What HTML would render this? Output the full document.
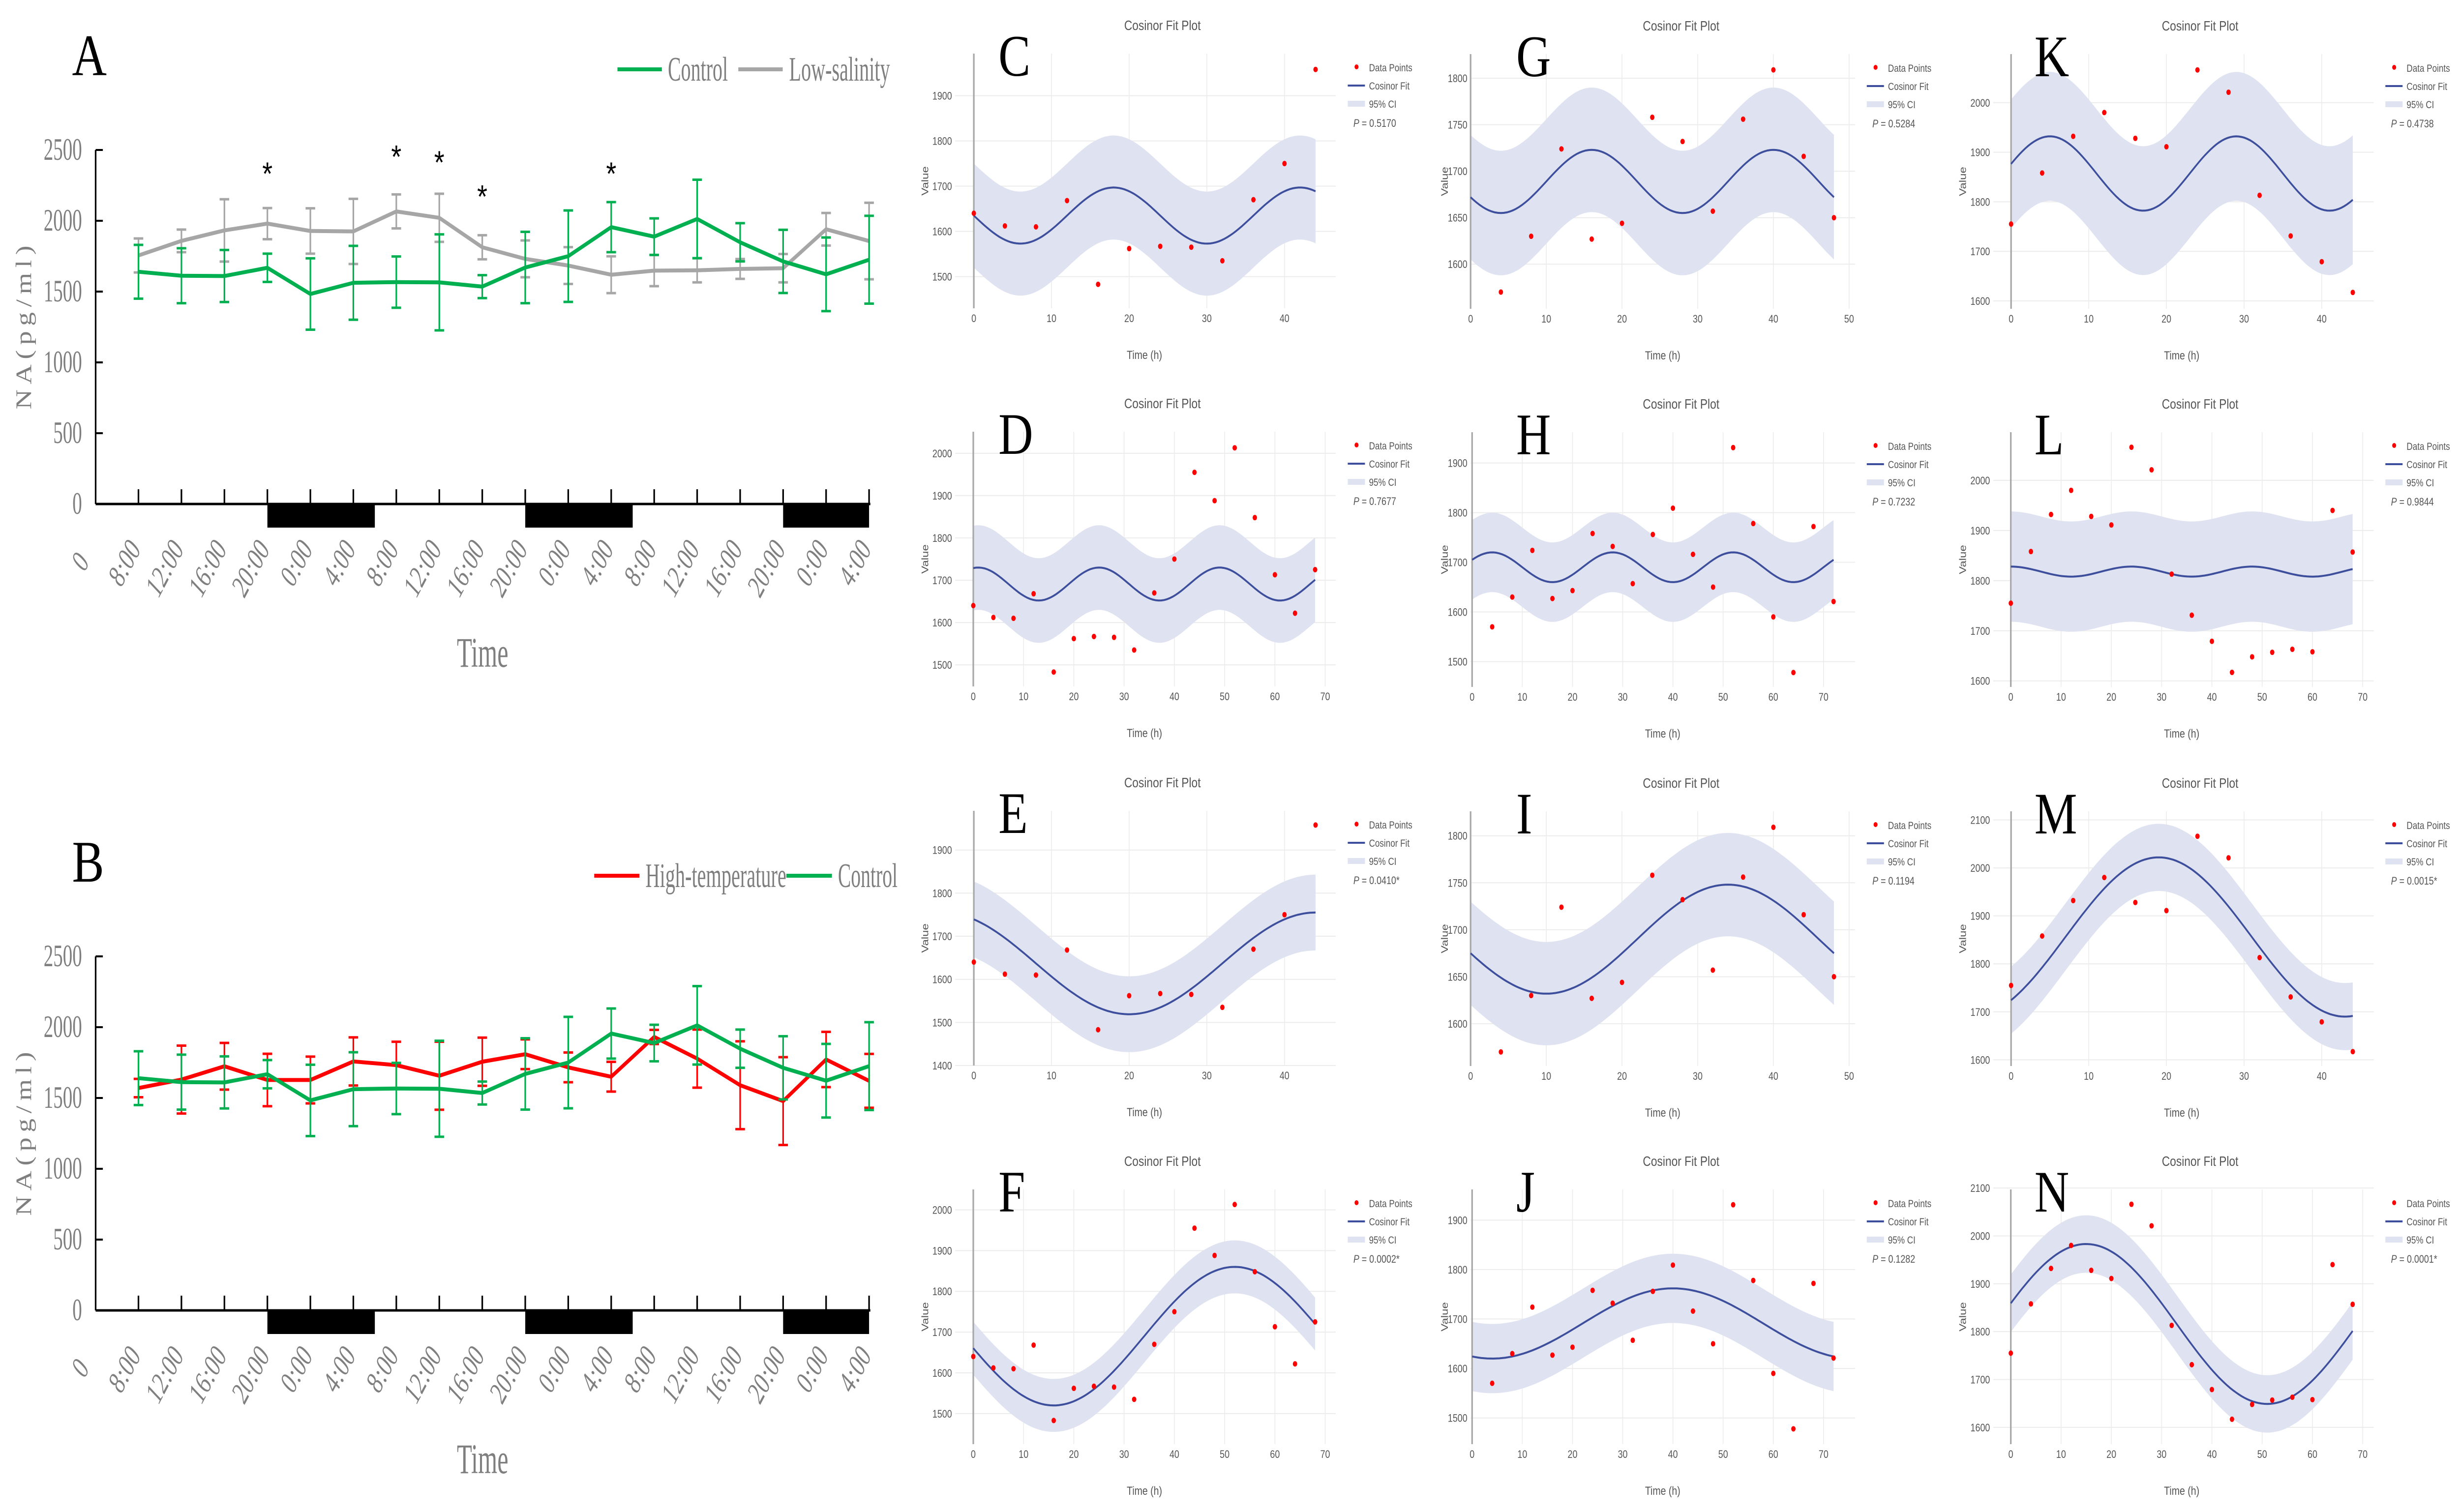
<!DOCTYPE html>
<html><head><meta charset="utf-8"><title>NA rhythm figure</title>
<style>html,body{margin:0;padding:0;background:#fff;overflow:hidden;width:100vw;height:100vh}svg{display:block;width:100vw;height:100vh}</style></head>
<body>
<svg id="fig" xmlns="http://www.w3.org/2000/svg" viewBox="0 0 6145 3075" preserveAspectRatio="none">
<rect width="6145" height="3075" fill="#fff"/>
</svg>
<script>
// ---------- data for line panels A/B ----------
const timeLabels = ["8:00","12:00","16:00","20:00","0:00","4:00","8:00","12:00","16:00","20:00","0:00","4:00","8:00","12:00","16:00","20:00","0:00","4:00"];
const controlVals = [1640,1612,1610,1668,1483,1562,1567,1565,1535,1670,1750,1955,1888,2013,1848,1713,1622,1725];
const controlErr = [190,194,184,100,252,261,181,339,81,252,323,177,129,277,135,223,260,310];
const lowSalVals = [1755,1858,1932,1980,1928,1925,2066,2021,1813,1731,1684,1619,1648,1650,1660,1665,1940,1857];
const lowSalErr = [120,80,220,110,160,230,120,170,85,130,130,130,110,85,70,100,115,270];
const highTempVals = [1570,1630,1724,1627,1627,1758,1732,1657,1756,1809,1716,1650,1931,1778,1590,1478,1772,1621];
const highTempErr = [65,240,165,185,165,170,165,240,170,105,105,105,50,205,310,310,195,190];
const starIdx = [3,6,7,8,11];
const starVals = [2350,2470,2430,2190,2350];
const yTicksAB = [0,500,1000,1500,2000,2500];
const nightBars = [[3,5.5],[9,11.5],[15,17]];

// ---------- data for cosinor panels ----------
const tC = [0,4,8,12,16,20,24,28,32,36,40,44];
const vC = [1640,1612,1610,1668,1483,1562,1567,1565,1535,1670,1750,1958];
const tD = [0,4,8,12,16,20,24,28,32,36,40,44,48,52,56,60,64,68];
const vD = [1640,1612,1610,1668,1483,1562,1567,1565,1535,1670,1750,1955,1888,2013,1848,1713,1622,1725];
const tG = [4,8,12,16,20,24,28,32,36,40,44,48];
const vG = [1570,1630,1724,1627,1644,1758,1732,1657,1756,1809,1716,1650];
const tH = [4,8,12,16,20,24,28,32,36,40,44,48,52,56,60,64,68,72];
const vH = [1570,1630,1724,1627,1643,1758,1732,1657,1756,1809,1716,1650,1931,1778,1590,1478,1772,1621];
const tK = [0,4,8,12,16,20,24,28,32,36,40,44];
const vK = [1755,1858,1932,1980,1928,1911,2066,2021,1813,1731,1679,1617];
const tL = [0,4,8,12,16,20,24,28,32,36,40,44,48,52,56,60,64,68];
const vL = [1755,1858,1932,1980,1928,1911,2066,2021,1813,1731,1679,1617,1648,1657,1663,1658,1940,1857];
// fit params: [mesor, amplitude, period(h), acrophase(h)]
const fitC = [1635,62,24,18], fitD = [1691,39,24,1], fitE = [1637,118,48,44], fitF = [1690,170,72,52];
const fitG = [1689,34,24,16], fitH = [1690,30,24,4], fitI = [1690,58,48,34], fitJ = [1691,71,72,40];
const fitK = [1857,75,24,5], fitL = [1818,10,24,0], fitM = [1856,166,48,19], fitN = [1816,167,72,15];
const ciC=115, ciD=100, ciE=88, ciF=65, ciG=67, ciH=80, ciI=55, ciJ=70, ciK=130, ciL=110, ciM=70, ciN=60;
const pValues = ["0.5170","0.7677","0.0410*","0.0002*","0.5284","0.7232","0.1194","0.1282","0.4738","0.9844","0.0015*","0.0001*"];

const NS="http://www.w3.org/2000/svg";
const svg=document.getElementById('fig');
function el(tag,attrs,parent,txt){const e=document.createElementNS(NS,tag);for(const k in attrs)e.setAttribute(k,attrs[k]);if(txt!==undefined)e.textContent=txt;(parent||svg).appendChild(e);return e;}

// ---------- line panels ----------
function linePanel(letter,oy,series,legend,stars){
  const g=el('g',{});
  
  
  const x0=239, xR=2175, yBase=1025+oy, yTop=305+oy;
  const ys=v=>yBase-v*(yBase-yTop)/2500;
  const xs=i=>346+i*107.4;
  const serif='"Liberation Serif", serif';
  let t=el('text',{x:180,y:153+oy,'font-family':serif,'font-size':120,fill:'#000'},g,letter);
  
  
  nightBars.forEach((b,k)=>{
    const r=el('rect',{x:xs(b[0]),y:yBase,width:Math.min(xs(b[1]),xR)-xs(b[0]),height:48,fill:'#000'},g);
    
    
  });
  const ax=el('line',{x1:x0,y1:yTop,x2:x0,y2:yBase,stroke:'#000','stroke-width':4},g);
  
  
  const bx=el('line',{x1:x0,y1:yBase,x2:xR,y2:yBase,stroke:'#000','stroke-width':5},g);
  
  
  yTicksAB.forEach(v=>{
    el('line',{x1:x0,y1:ys(v),x2:x0+18,y2:ys(v),stroke:'#000','stroke-width':4},g);
    const tl=el('text',{x:0,y:0,transform:`translate(205,${ys(v)+20}) scale(0.75,1)`,'text-anchor':'end','font-family':serif,'font-size':64,fill:'#7f7f7f'},g,String(v));
    
    
  });
  timeLabels.forEach((lab,i)=>{
    el('line',{x1:xs(i),y1:yBase-30,x2:xs(i),y2:yBase,stroke:'#000','stroke-width':4},g);
    const tl=el('text',{x:0,y:0,transform:`translate(${xs(i)+8},${yBase+92}) rotate(-57) scale(0.8,1)`,'text-anchor':'end','font-family':serif,'font-style':'italic','font-size':64,fill:'#7f7f7f'},g,lab);
    
    
  });
  const z=el('text',{x:0,y:0,transform:`translate(225,${yBase+118}) rotate(-57) scale(0.8,1)`,'text-anchor':'end','font-family':serif,'font-style':'italic','font-size':64,fill:'#7f7f7f'},g,'0');
  
  
  const yt=el('text',{x:0,y:0,transform:`translate(78,${666+oy}) rotate(-90)`,'text-anchor':'middle','font-family':serif,'font-size':56,fill:'#7f7f7f',textLength:333,lengthAdjust:'spacing'},g,'NA(pg/ml)');
  
  
  const xt=el('text',{x:0,y:0,transform:`translate(1206,${1356+oy}) scale(0.72,1)`,'text-anchor':'middle','font-family':serif,'font-size':86,fill:'#7f7f7f'},g,'Time');
  
  
  series.forEach(s=>{
    const sg=el('g',{},g);
    
    
    s.vals.forEach((v,i)=>{
      const e=s.err[i], x=xs(i);
      el('line',{x1:x,y1:ys(v-e),x2:x,y2:ys(v+e),stroke:s.color,'stroke-width':4},sg);
      el('line',{x1:x-12,y1:ys(v-e),x2:x+12,y2:ys(v-e),stroke:s.color,'stroke-width':5},sg);
      el('line',{x1:x-12,y1:ys(v+e),x2:x+12,y2:ys(v+e),stroke:s.color,'stroke-width':5},sg);
    });
    const pts=s.vals.map((v,i)=>xs(i)+','+ys(v)).join(' ');
    const pl=el('polyline',{points:pts,fill:'none',stroke:s.color,'stroke-width':8,'stroke-linejoin':'round'},sg);
    
    
  });
  if(stars){
    stars.idx.forEach((i,k)=>{
      const st=el('text',{x:xs(i),y:ys(stars.vals[k])+28,'text-anchor':'middle','font-family':'"Liberation Sans", sans-serif','font-size':66,fill:'#000'},g,'*');
      
      
    });
  }
  legend.forEach(L=>{
    const lg=el('g',{},g);
    
    
    el('line',{x1:L.x1,y1:141+oy,x2:L.x2,y2:141+oy,stroke:L.color,'stroke-width':8},lg);
    el('text',{x:L.tx,y:164+oy,'font-family':serif,'font-size':70,fill:'#7f7f7f',textLength:L.tw,lengthAdjust:'spacingAndGlyphs'},lg,L.text);
  });
}
linePanel('A',0,[
  {name:'low-salinity',color:'#a6a6a6',vals:lowSalVals,err:lowSalErr},
  {name:'control',color:'#00b050',vals:controlVals,err:controlErr}],
  [{x1:1543,x2:1654,color:'#00b050',tx:1669,tw:150,text:'Control'},
   {x1:1845,x2:1956,color:'#a6a6a6',tx:1972,tw:252,text:'Low-salinity'}],
  {idx:starIdx,vals:starVals});
linePanel('B',1640,[
  {name:'high-temperature',color:'#ff0000',vals:highTempVals,err:highTempErr},
  {name:'control',color:'#00b050',vals:controlVals,err:controlErr}],
  [{x1:1485,x2:1598,color:'#ff0000',tx:1613,tw:352,text:'High-temperature'},
   {x1:1965,x2:2079,color:'#00b050',tx:2094,tw:149,text:'Control'}],null);

// ---------- cosinor panels ----------
const cols=[
 {left:2387,right:3338,lab:2495,tc:2905,xc:2860,vx:2312,leg:3368},
 {left:3675,right:4636,lab:3789,tc:4201,xc:4155,vx:3610,leg:4665},
 {left:4981,right:5932,lab:5084,tc:5498,xc:5452,vx:4905,leg:5961}];
const panels=[
 {L:'C',c:0,T:50,y:[1430,1993],yt:[1500,1600,1700,1800,1900],x:[-2.4,46.6],xt:[0,10,20,30,40],t:tC,v:vC,fit:fitC,ci:ciC,t0:0,t1:44},
 {L:'D',c:0,T:819,y:[1449,2051],yt:[1500,1600,1700,1800,1900,2000],x:[-3.6,72.1],xt:[0,10,20,30,40,50,60,70],t:tD,v:vD,fit:fitD,ci:ciD,t0:0,t1:68},
 {L:'E',c:0,T:1590,y:[1400,1991],yt:[1400,1500,1600,1700,1800,1900],x:[-2.4,46.6],xt:[0,10,20,30,40],t:tC,v:vC,fit:fitE,ci:ciE,t0:0,t1:44},
 {L:'F',c:0,T:2360,y:[1425,2050],yt:[1500,1600,1700,1800,1900,2000],x:[-3.6,72.1],xt:[0,10,20,30,40,50,60,70],t:tD,v:vD,fit:fitF,ci:ciF,t0:0,t1:68},
 {L:'G',c:1,T:51,y:[1552,1826],yt:[1600,1650,1700,1750,1800],x:[0,50.8],xt:[0,10,20,30,40,50],t:tG,v:vG,fit:fitG,ci:ciG,t0:0,t1:48},
 {L:'H',c:1,T:820,y:[1449,1962],yt:[1500,1600,1700,1800,1900],x:[-0.3,76.3],xt:[0,10,20,30,40,50,60,70],t:tH,v:vH,fit:fitH,ci:ciH,t0:0,t1:72},
 {L:'I',c:1,T:1591,y:[1555,1826],yt:[1600,1650,1700,1750,1800],x:[0,50.8],xt:[0,10,20,30,40,50],t:tG,v:vG,fit:fitI,ci:ciI,t0:0,t1:48},
 {L:'J',c:1,T:2360,y:[1447,1962],yt:[1500,1600,1700,1800,1900],x:[-0.3,76.3],xt:[0,10,20,30,40,50,60,70],t:tH,v:vH,fit:fitJ,ci:ciJ,t0:0,t1:72},
 {L:'K',c:2,T:51,y:[1584,2098],yt:[1600,1700,1800,1900,2000],x:[-2.3,46.7],xt:[0,10,20,30,40],t:tK,v:vK,fit:fitK,ci:ciK,t0:0,t1:44},
 {L:'L',c:2,T:820,y:[1588,2096],yt:[1600,1700,1800,1900,2000],x:[-3.5,72.2],xt:[0,10,20,30,40,50,60,70],t:tL,v:vL,fit:fitL,ci:ciL,t0:0,t1:68},
 {L:'M',c:2,T:1591,y:[1587,2118],yt:[1600,1700,1800,1900,2000,2100],x:[-2.3,46.7],xt:[0,10,20,30,40],t:tK,v:vK,fit:fitM,ci:ciM,t0:0,t1:44},
 {L:'N',c:2,T:2360,y:[1565,2097],yt:[1600,1700,1800,1900,2000,2100],x:[-3.5,72.2],xt:[0,10,20,30,40,50,60,70],t:tL,v:vL,fit:fitN,ci:ciN,t0:0,t1:68}];
const sans='"Liberation Sans", sans-serif';
panels.forEach((p,pi)=>{
  const C=cols[p.c];
  const g=el('g',{});
  
  
  const top=p.T+59, bot=p.T+577;
  const xs=t=>C.left+(t-p.x[0])/(p.x[1]-p.x[0])*(C.right-C.left);
  const ys=v=>bot-(v-p.y[0])/(p.y[1]-p.y[0])*(bot-top);
  const fit=t=>p.fit[0]+p.fit[1]*Math.cos(2*Math.PI*(t-p.fit[3])/p.fit[2]);
  p.yt.forEach(v=>{
    el('line',{x1:C.left,y1:ys(v),x2:C.right,y2:ys(v),stroke:'#ececec','stroke-width':2},g);
    const tl=el('text',{x:C.left-8,y:ys(v)+8,'text-anchor':'end','font-family':sans,'font-size':22,fill:'#555'},g,String(v));
    
    
  });
  p.xt.forEach(t=>{
    el('line',{x1:xs(t),y1:top,x2:xs(t),y2:bot,stroke:'#ececec','stroke-width':2},g);
    const tl=el('text',{x:xs(t),y:p.T+605,'text-anchor':'middle','font-family':sans,'font-size':22,fill:'#555'},g,String(t));
    
    
  });
  const N=120, up=[], lo=[], ln=[];
  for(let k=0;k<=N;k++){const t=p.t0+(p.t1-p.t0)*k/N, f=fit(t);
    up.push(xs(t).toFixed(1)+','+ys(f+p.ci).toFixed(1)); lo.unshift(xs(t).toFixed(1)+','+ys(f-p.ci).toFixed(1)); ln.push(xs(t).toFixed(1)+','+ys(f).toFixed(1));}
  const band=el('polygon',{points:up.concat(lo).join(' '),fill:'#dfe2f0'},g);
  
  
  const zl=el('line',{x1:xs(0),y1:top,x2:xs(0),y2:bot,stroke:'#a8a8a8','stroke-width':4},g);
  
  
  const fl=el('polyline',{points:ln.join(' '),fill:'none',stroke:'#3d4f9c','stroke-width':4},g);
  
  
  p.t.forEach((t,i)=>{
    const d=el('circle',{cx:xs(t),cy:ys(p.v[i]),r:5.5,fill:'#ff0000'},g);
    
    
  });
  let t=el('text',{x:C.tc,y:p.T+11,'text-anchor':'middle','font-family':sans,'font-size':28,fill:'#555'},g,'Cosinor Fit Plot');
  
  
  t=el('text',{x:C.xc,y:p.T+680,'text-anchor':'middle','font-family':sans,'font-size':24,fill:'#555'},g,'Time (h)');
  
  
  t=el('text',{x:0,y:0,transform:`translate(${C.vx+8},${p.T+318}) rotate(-90)`,'text-anchor':'middle','font-family':sans,'font-size':24,fill:'#555'},g,'Value');
  
  
  t=el('text',{x:C.lab,y:p.T+104,'font-family':'"Liberation Serif", serif','font-size':120,fill:'#000'},g,p.L);
  
  
  const lg=el('g',{},g);
  
  
  el('circle',{cx:C.leg+22,cy:p.T+86,r:5,fill:'#ff0000'},lg);
  el('text',{x:C.leg+53,y:p.T+95,'font-family':sans,'font-size':21,fill:'#555'},lg,'Data Points');
  el('line',{x1:C.leg,y1:p.T+124,x2:C.leg+43,y2:p.T+124,stroke:'#3d4f9c','stroke-width':4},lg);
  el('text',{x:C.leg+53,y:p.T+132,'font-family':sans,'font-size':21,fill:'#555'},lg,'Cosinor Fit');
  el('rect',{x:C.leg,y:p.T+155,width:43,height:12,fill:'#dfe2f0'},lg);
  el('text',{x:C.leg+53,y:p.T+169,'font-family':sans,'font-size':21,fill:'#555'},lg,'95% CI');
  const pt=el('text',{x:C.leg+14,y:p.T+208,'font-family':sans,'font-size':22,fill:'#555'},lg);
  el('tspan',{'font-style':'italic'},pt,'P');
  el('tspan',{},pt,' = '+pValues[pi]);
});
</script>
</body></html>
